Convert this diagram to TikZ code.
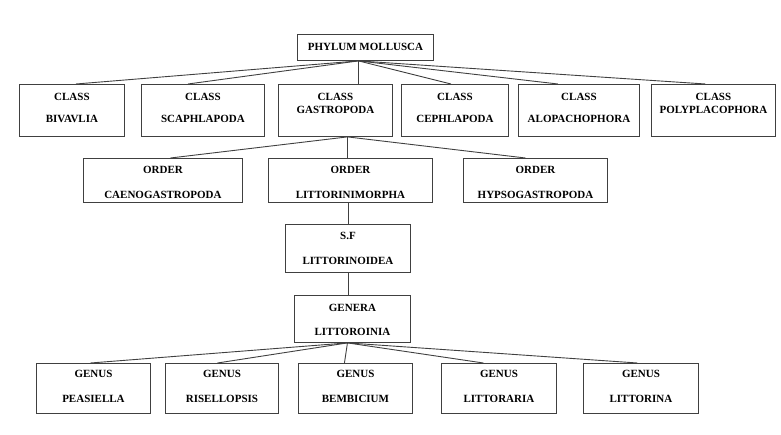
\documentclass[tikz,border=0pt]{standalone}
\usepackage{fontspec}
\setmainfont{Liberation Serif}
\newcommand{\rankname}[3][9pt]{\begin{tabular}[t]{@{}c@{}}#2\\[#1]#3\end{tabular}}

\begin{document}
\begin{tikzpicture}[x=1pt,y=-1pt,
  every node/.style={font=\bfseries\fontsize{11}{13}\selectfont},
  taxon/.style={draw=black!75, line width=0.9pt, anchor=north west,
    inner xsep=0pt, inner ysep=0pt, minimum height=0pt},
  link/.style={draw=black!75, line width=0.9pt}]

% ---------- picture frame (pixel grid of the source, y downwards) ----------
\useasboundingbox (0,0) rectangle (781,435);

% ---------- phylum ----------
\node[taxon, minimum width=136, text height=15.6pt, text depth=10.4pt] (phylum) at (297,34) {PHYLUM MOLLUSCA};

% ---------- classes: top y=84, bottom y=136 ----------
\node[taxon, minimum width=105, text height=15.6pt, text depth=36.4pt] (bivavlia) at (19,84) {\rankname{CLASS}{BIVAVLIA}};
\node[taxon, minimum width=123, text height=15.6pt, text depth=36.4pt] (scaphlapoda) at (141,84) {\rankname{CLASS}{SCAPHLAPODA}};
\node[taxon, minimum width=114, text height=15.6pt, text depth=36.4pt] (gastropoda) at (278,84) {\rankname[0pt]{CLASS}{GASTROPODA}};
\node[taxon, minimum width=107, text height=15.6pt, text depth=36.4pt] (cephlapoda) at (401,84) {\rankname{CLASS}{CEPHLAPODA}};
\node[taxon, minimum width=121, text height=15.6pt, text depth=36.4pt] (alopachophora) at (518,84) {\rankname{CLASS}{ALOPACHOPHORA}};
\node[taxon, minimum width=124, text height=15.6pt, text depth=36.4pt] (polyplacophora) at (651,84) {\rankname[0pt]{CLASS}{POLYPLACOPHORA}};

% ---------- orders: top y=158, bottom y=202 ----------
\node[taxon, minimum width=159, text height=14.6pt, text depth=29.4pt] (caenogastropoda) at (83,158) {\rankname[12pt]{ORDER}{CAENOGASTROPODA}};
\node[taxon, minimum width=164, text height=14.6pt, text depth=29.4pt] (littorinimorpha) at (268,158) {\rankname[12pt]{ORDER}{LITTORINIMORPHA}};
\node[taxon, minimum width=144, text height=14.6pt, text depth=29.4pt] (hypsogastropoda) at (463,158) {\rankname[12pt]{ORDER}{HYPSOGASTROPODA}};

% ---------- superfamily and genera ----------
\node[taxon, minimum width=125, text height=14.6pt, text depth=33.4pt] (sf) at (285,224) {\rankname[12pt]{S.F}{LITTORINOIDEA}};
\node[taxon, minimum width=116, text height=15.6pt, text depth=31.4pt] (genera) at (294,295) {\rankname[11pt]{GENERA}{LITTOROINIA}};

% ---------- genus row: top y=363, bottom y=413 ----------
\node[taxon, minimum width=114, text height=13.6pt, text depth=36.4pt] (peasiella) at (36,363) {\rankname[12pt]{GENUS}{PEASIELLA}};
\node[taxon, minimum width=113, text height=13.6pt, text depth=36.4pt] (risellopsis) at (165,363) {\rankname[12pt]{GENUS}{RISELLOPSIS}};
\node[taxon, minimum width=114, text height=13.6pt, text depth=36.4pt] (bembicium) at (298,363) {\rankname[12pt]{GENUS}{BEMBICIUM}};
\node[taxon, minimum width=115, text height=13.6pt, text depth=36.4pt] (littoraria) at (441,363) {\rankname[12pt]{GENUS}{LITTORARIA}};
\node[taxon, minimum width=115, text height=13.6pt, text depth=36.4pt] (littorina) at (583,363) {\rankname[12pt]{GENUS}{LITTORINA}};

% ---------- connectors ----------
\coordinate (phylum-root) at ([xshift=-7pt]phylum.south);
\foreach \cls/\dx in {bivavlia/4, scaphlapoda/-15, gastropoda/23, cephlapoda/-4, alopachophora/-21, polyplacophora/-8}
  \draw[link] (phylum-root) -- ([xshift=\dx pt]\cls.north);

\coordinate (gastropoda-root) at ([xshift=12pt]gastropoda.south);
\foreach \ord/\dx in {caenogastropoda/7.5, littorinimorpha/-3, hypsogastropoda/-10}
  \draw[link] (gastropoda-root) -- ([xshift=\dx pt]\ord.north);

\draw[link] (littorinimorpha.south -| sf.north) -- (sf.north);
\draw[link] (sf.south) -- (sf.south |- genera.north);

\coordinate (genera-root) at ([xshift=-5pt]genera.south);
\foreach \gen/\dx in {peasiella/-3, risellopsis/-4.5, bembicium/-11, littoraria/-15.5, littorina/-3.5}
  \draw[link] (genera-root) -- ([xshift=\dx pt]\gen.north);

\end{tikzpicture}
\end{document}
